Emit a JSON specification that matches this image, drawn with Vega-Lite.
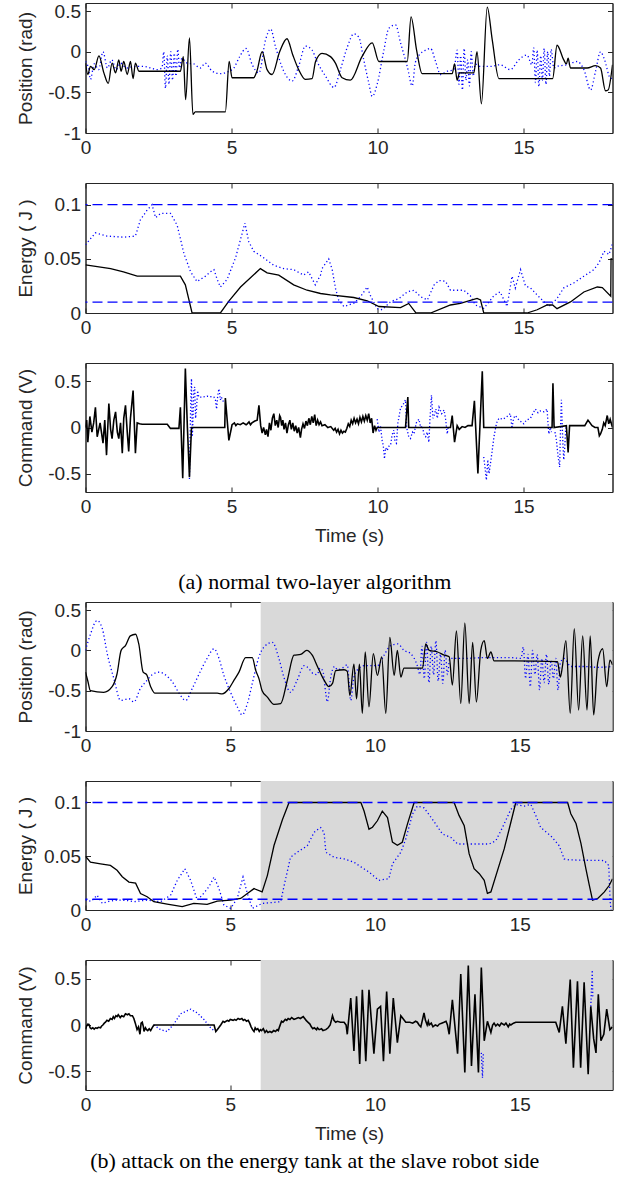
{
"$schema":"https://vega.github.io/schema/vega-lite/v6.json",
"padding":{"left":15.5,"top":1,"right":5,"bottom":5},
"spacing":24,
"config":{"view":{"stroke":"#262626","strokeWidth":1},"axis":{"grid":false,"tickSize":-5,"labelPadding":10,"labelFlush":false,"labelFont":"Liberation Sans","labelFontSize":19,"labelColor":"#262626","titleFont":"Liberation Sans","titleFontSize":19,"titleFontWeight":"normal","titleColor":"#262626","domainColor":"#262626","tickColor":"#262626","labelOverlap":false}},
"datasets":{
"lim":[{"v":0.1},{"v":0.01}],
"shade":[{"a":6.05,"b":18.2}],
"p1k":[{"t":0,"v":-0.14},{"t":0.08,"v":-0.28},{"t":0.17,"v":-0.18},{"t":0.3,"v":-0.22},{"t":0.46,"v":-0.05},{"t":0.63,"v":-0.26},{"t":0.78,"v":-0.39},{"t":0.91,"v":-0.14},{"t":1.03,"v":-0.26},{"t":1.14,"v":-0.1},{"t":1.22,"v":-0.24},{"t":1.31,"v":-0.12},{"t":1.43,"v":-0.28},{"t":1.54,"v":-0.12},{"t":1.63,"v":-0.33},{"t":1.71,"v":-0.14},{"t":1.83,"v":-0.24},{"t":2.0,"v":-0.24},{"t":3.25,"v":-0.24},{"t":3.35,"v":-0.06},{"t":3.43,"v":-0.59},{"t":3.56,"v":0.17},{"t":3.68,"v":-0.77},{"t":3.76,"v":-0.74},{"t":4.79,"v":-0.74},{"t":4.92,"v":-0.12},{"t":5.02,"v":-0.32},{"t":5.76,"v":-0.32},{"t":5.87,"v":-0.24},{"t":6.05,"v":0.0},{"t":6.22,"v":-0.22},{"t":6.39,"v":-0.28},{"t":6.65,"v":0.0},{"t":6.9,"v":0.16},{"t":7.1,"v":-0.04},{"t":7.3,"v":-0.22},{"t":7.53,"v":-0.34},{"t":7.76,"v":-0.33},{"t":7.88,"v":-0.12},{"t":8.1,"v":-0.02},{"t":8.39,"v":-0.06},{"t":8.56,"v":-0.14},{"t":8.79,"v":-0.32},{"t":9.07,"v":-0.35},{"t":9.47,"v":-0.06},{"t":9.82,"v":0.11},{"t":10.05,"v":-0.12},{"t":11.02,"v":-0.12},{"t":11.15,"v":0.43},{"t":11.34,"v":0.02},{"t":11.53,"v":-0.27},{"t":12.56,"v":-0.27},{"t":12.64,"v":-0.15},{"t":12.73,"v":-0.35},{"t":12.81,"v":-0.26},{"t":13.3,"v":-0.26},{"t":13.41,"v":0.0},{"t":13.56,"v":-0.64},{"t":13.76,"v":0.55},{"t":13.93,"v":0.15},{"t":14.16,"v":-0.33},{"t":16.0,"v":-0.33},{"t":16.15,"v":0.08},{"t":16.38,"v":-0.1},{"t":16.47,"v":-0.15},{"t":16.53,"v":-0.08},{"t":16.61,"v":-0.2},{"t":17.18,"v":-0.2},{"t":17.47,"v":-0.17},{"t":17.64,"v":-0.2},{"t":17.81,"v":-0.48},{"t":17.9,"v":-0.47},{"t":18.05,"v":-0.16}],
"p1b":[{"t":0,"v":-0.12},{"t":0.1,"v":-0.2},{"t":0.17,"v":-0.34},{"t":0.3,"v":-0.15},{"t":0.45,"v":-0.22},{"t":0.6,"v":0.0},{"t":0.75,"v":-0.2},{"t":0.9,"v":-0.1},{"t":1.05,"v":-0.22},{"t":1.2,"v":-0.14},{"t":1.4,"v":-0.2},{"t":1.7,"v":-0.18},{"t":2.0,"v":-0.18},{"t":2.24,"v":-0.2},{"t":2.45,"v":-0.22},{"t":2.62,"v":-0.2},{"t":2.68,"v":0.0},{"t":2.74,"v":-0.45},{"t":2.8,"v":-0.05},{"t":2.86,"v":-0.4},{"t":2.92,"v":0.0},{"t":2.98,"v":-0.35},{"t":3.04,"v":-0.02},{"t":3.1,"v":-0.3},{"t":3.16,"v":0.03},{"t":3.22,"v":-0.2},{"t":3.3,"v":-0.08},{"t":3.48,"v":-0.14},{"t":3.71,"v":-0.15},{"t":3.93,"v":-0.2},{"t":4.1,"v":-0.14},{"t":4.34,"v":-0.24},{"t":4.62,"v":-0.27},{"t":4.85,"v":-0.25},{"t":5.08,"v":-0.2},{"t":5.28,"v":-0.06},{"t":5.5,"v":0.04},{"t":5.71,"v":-0.16},{"t":5.94,"v":-0.26},{"t":6.17,"v":0.15},{"t":6.34,"v":0.28},{"t":6.51,"v":0.06},{"t":6.79,"v":-0.24},{"t":7.08,"v":-0.36},{"t":7.3,"v":-0.18},{"t":7.53,"v":0.07},{"t":7.76,"v":0.02},{"t":7.93,"v":-0.12},{"t":8.22,"v":-0.3},{"t":8.51,"v":-0.44},{"t":8.73,"v":-0.22},{"t":8.96,"v":0.05},{"t":9.19,"v":0.22},{"t":9.36,"v":0.18},{"t":9.53,"v":-0.1},{"t":9.7,"v":-0.38},{"t":9.82,"v":-0.55},{"t":9.99,"v":-0.4},{"t":10.22,"v":0.02},{"t":10.39,"v":0.29},{"t":10.62,"v":0.33},{"t":10.79,"v":0.11},{"t":11.02,"v":-0.18},{"t":11.19,"v":-0.42},{"t":11.3,"v":-0.13},{"t":11.48,"v":-0.02},{"t":11.65,"v":0.02},{"t":11.82,"v":0.04},{"t":11.99,"v":-0.12},{"t":12.16,"v":-0.28},{"t":12.39,"v":-0.24},{"t":12.62,"v":-0.22},{"t":12.73,"v":0.02},{"t":12.79,"v":-0.4},{"t":12.85,"v":-0.05},{"t":12.91,"v":-0.47},{"t":12.97,"v":0.04},{"t":13.03,"v":-0.35},{"t":13.09,"v":-0.1},{"t":13.15,"v":-0.42},{"t":13.21,"v":0.0},{"t":13.28,"v":-0.3},{"t":13.35,"v":-0.15},{"t":13.52,"v":-0.18},{"t":13.87,"v":-0.18},{"t":14.2,"v":-0.16},{"t":14.55,"v":-0.22},{"t":14.84,"v":-0.1},{"t":15.12,"v":-0.04},{"t":15.29,"v":-0.16},{"t":15.35,"v":0.05},{"t":15.41,"v":-0.38},{"t":15.47,"v":0.02},{"t":15.53,"v":-0.43},{"t":15.59,"v":-0.05},{"t":15.65,"v":-0.35},{"t":15.71,"v":0.04},{"t":15.77,"v":-0.4},{"t":15.83,"v":0.0},{"t":15.89,"v":-0.3},{"t":15.95,"v":0.03},{"t":16.04,"v":-0.2},{"t":16.15,"v":-0.18},{"t":16.5,"v":-0.16},{"t":16.84,"v":-0.12},{"t":17.07,"v":-0.22},{"t":17.3,"v":-0.47},{"t":17.47,"v":-0.24},{"t":17.64,"v":0.0},{"t":17.76,"v":-0.08},{"t":17.99,"v":-0.33},{"t":18.05,"v":-0.3}],
"p2k":[{"t":0,"v":0.0444},{"t":0.86,"v":0.041},{"t":1.3,"v":0.038},{"t":1.77,"v":0.034},{"t":3.25,"v":0.034},{"t":3.42,"v":0.026},{"t":3.65,"v":0},{"t":4.62,"v":0},{"t":4.91,"v":0.011},{"t":5.31,"v":0.024},{"t":5.99,"v":0.041},{"t":6.22,"v":0.037},{"t":6.62,"v":0.035},{"t":7.13,"v":0.026},{"t":7.59,"v":0.021},{"t":8.05,"v":0.018},{"t":8.39,"v":0.0167},{"t":9.19,"v":0.0143},{"t":9.65,"v":0.0113},{"t":10.05,"v":0.006},{"t":10.79,"v":0.0049},{"t":11.07,"v":0.0088},{"t":11.31,"v":0.0003},{"t":11.82,"v":0},{"t":12.5,"v":0.0074},{"t":12.84,"v":0.0088},{"t":13.41,"v":0.0134},{"t":13.53,"v":0.012},{"t":13.64,"v":0},{"t":15.12,"v":0},{"t":15.47,"v":0.003},{"t":15.81,"v":0.0074},{"t":16.0,"v":0.0074},{"t":16.15,"v":0.004},{"t":16.61,"v":0.0102},{"t":17.07,"v":0.0194},{"t":17.53,"v":0.024},{"t":17.7,"v":0.0235},{"t":17.99,"v":0.0155},{"t":18.0,"v":0.05},{"t":18.05,"v":0.05}],
"p2b":[{"t":0,"v":0.063},{"t":0.34,"v":0.074},{"t":0.74,"v":0.071},{"t":1.31,"v":0.07},{"t":1.71,"v":0.071},{"t":1.88,"v":0.086},{"t":2.11,"v":0.095},{"t":2.28,"v":0.1},{"t":2.4,"v":0.088},{"t":2.57,"v":0.092},{"t":2.91,"v":0.092},{"t":3.14,"v":0.081},{"t":3.37,"v":0.055},{"t":3.6,"v":0.038},{"t":3.82,"v":0.029},{"t":4.11,"v":0.034},{"t":4.28,"v":0.038},{"t":4.4,"v":0.04},{"t":4.51,"v":0.031},{"t":4.62,"v":0.024},{"t":4.85,"v":0.031},{"t":5.14,"v":0.051},{"t":5.31,"v":0.068},{"t":5.46,"v":0.083},{"t":5.59,"v":0.066},{"t":5.76,"v":0.057},{"t":6.1,"v":0.051},{"t":6.45,"v":0.044},{"t":6.79,"v":0.041},{"t":7.13,"v":0.04},{"t":7.47,"v":0.035},{"t":7.64,"v":0.038},{"t":7.87,"v":0.026},{"t":7.93,"v":0.029},{"t":8.05,"v":0.035},{"t":8.1,"v":0.041},{"t":8.33,"v":0.05},{"t":8.45,"v":0.04},{"t":8.56,"v":0.023},{"t":8.67,"v":0.012},{"t":8.85,"v":0.006},{"t":9.19,"v":0.009},{"t":9.42,"v":0.015},{"t":9.65,"v":0.024},{"t":9.76,"v":0.016},{"t":9.99,"v":0.004},{"t":10.16,"v":0.003},{"t":10.45,"v":0.0105},{"t":10.73,"v":0.0133},{"t":11.02,"v":0.0195},{"t":11.25,"v":0.021},{"t":11.48,"v":0.015},{"t":11.71,"v":0.012},{"t":11.94,"v":0.026},{"t":12.11,"v":0.03},{"t":12.33,"v":0.0293},{"t":12.5,"v":0.021},{"t":12.96,"v":0.021},{"t":13.18,"v":0.016},{"t":13.35,"v":0.0074},{"t":13.64,"v":0.0043},{"t":13.99,"v":0.016},{"t":14.2,"v":0.0195},{"t":14.44,"v":0.006},{"t":14.61,"v":0.034},{"t":14.72,"v":0.023},{"t":14.9,"v":0.04},{"t":15.07,"v":0.025},{"t":15.24,"v":0.0232},{"t":15.59,"v":0.0133},{"t":15.87,"v":0.006},{"t":16.15,"v":0.0133},{"t":16.38,"v":0.0232},{"t":16.72,"v":0.0277},{"t":17.07,"v":0.034},{"t":17.41,"v":0.04},{"t":17.58,"v":0.046},{"t":17.76,"v":0.057},{"t":17.93,"v":0.054},{"t":18.05,"v":0.064}],
"p3k":[{"t":0,"v":0.0},{"t":0.04,"v":0.08},{"t":0.08,"v":-0.16},{"t":0.15,"v":0.12},{"t":0.22,"v":-0.05},{"t":0.28,"v":0.05},{"t":0.34,"v":0.22},{"t":0.4,"v":-0.1},{"t":0.5,"v":0.05},{"t":0.6,"v":-0.17},{"t":0.66,"v":0.08},{"t":0.72,"v":-0.3},{"t":0.8,"v":0.26},{"t":0.86,"v":-0.02},{"t":0.91,"v":-0.12},{"t":0.97,"v":0.08},{"t":1.03,"v":0.17},{"t":1.09,"v":-0.05},{"t":1.14,"v":-0.12},{"t":1.2,"v":0.05},{"t":1.26,"v":-0.28},{"t":1.31,"v":0.1},{"t":1.37,"v":0.24},{"t":1.43,"v":-0.05},{"t":1.48,"v":-0.26},{"t":1.54,"v":0.1},{"t":1.63,"v":0.4},{"t":1.71,"v":-0.28},{"t":1.77,"v":0.05},{"t":1.85,"v":0.04},{"t":1.94,"v":0.036},{"t":2.8,"v":0.036},{"t":2.91,"v":-0.01},{"t":3.2,"v":-0.01},{"t":3.25,"v":0.22},{"t":3.33,"v":-0.55},{"t":3.42,"v":0.64},{"t":3.49,"v":0.0},{"t":3.56,"v":-0.54},{"t":3.63,"v":0.0},{"t":4.77,"v":0.0},{"t":4.79,"v":0.32},{"t":4.91,"v":-0.14},{"t":5.02,"v":0.03},{"t":5.1,"v":0.05},{"t":5.15,"v":0.02},{"t":5.2,"v":0.04},{"t":5.3,"v":0.03},{"t":5.4,"v":0.05},{"t":5.5,"v":0.03},{"t":5.54,"v":0.04},{"t":5.6,"v":0.06},{"t":5.65,"v":0.03},{"t":5.7,"v":0.05},{"t":5.8,"v":0.07},{"t":5.88,"v":0.08},{"t":5.94,"v":0.24},{"t":6.0,"v":0.02},{"t":6.05,"v":-0.06},{"t":6.1,"v":0.0},{"t":6.16,"v":-0.08},{"t":6.2,"v":-0.02},{"t":6.25,"v":-0.1},{"t":6.3,"v":0.05},{"t":6.35,"v":-0.03},{"t":6.4,"v":0.1},{"t":6.45,"v":0.15},{"t":6.5,"v":0.02},{"t":6.55,"v":0.08},{"t":6.6,"v":0.0},{"t":6.65,"v":0.13},{"t":6.68,"v":0.11},{"t":6.72,"v":0.02},{"t":6.76,"v":0.08},{"t":6.8,"v":-0.02},{"t":6.85,"v":0.05},{"t":6.9,"v":-0.06},{"t":6.95,"v":0.03},{"t":7.0,"v":0.08},{"t":7.05,"v":-0.02},{"t":7.1,"v":0.05},{"t":7.15,"v":-0.04},{"t":7.2,"v":0.02},{"t":7.25,"v":-0.06},{"t":7.3,"v":0.0},{"t":7.36,"v":-0.11},{"t":7.4,"v":-0.02},{"t":7.45,"v":0.04},{"t":7.5,"v":-0.01},{"t":7.55,"v":0.07},{"t":7.6,"v":0.02},{"t":7.65,"v":0.1},{"t":7.7,"v":0.03},{"t":7.75,"v":0.12},{"t":7.8,"v":0.05},{"t":7.85,"v":0.14},{"t":7.9,"v":0.02},{"t":7.95,"v":0.08},{"t":8.0,"v":0.03},{"t":8.05,"v":0.06},{"t":8.1,"v":0.02},{"t":8.2,"v":0.03},{"t":8.3,"v":0.0},{"t":8.4,"v":0.01},{"t":8.5,"v":-0.03},{"t":8.55,"v":-0.01},{"t":8.6,"v":-0.05},{"t":8.65,"v":-0.02},{"t":8.7,"v":-0.07},{"t":8.75,"v":-0.03},{"t":8.8,"v":-0.06},{"t":8.85,"v":-0.04},{"t":8.9,"v":-0.05},{"t":8.95,"v":-0.01},{"t":9.0,"v":0.04},{"t":9.05,"v":0.01},{"t":9.1,"v":0.08},{"t":9.15,"v":0.04},{"t":9.2,"v":0.1},{"t":9.25,"v":0.05},{"t":9.3,"v":0.09},{"t":9.35,"v":0.04},{"t":9.4,"v":0.11},{"t":9.45,"v":0.06},{"t":9.5,"v":0.12},{"t":9.55,"v":0.07},{"t":9.6,"v":0.13},{"t":9.65,"v":0.08},{"t":9.7,"v":0.15},{"t":9.75,"v":0.05},{"t":9.8,"v":0.1},{"t":9.85,"v":-0.06},{"t":9.9,"v":0.02},{"t":9.95,"v":-0.03},{"t":9.99,"v":0.0},{"t":10.96,"v":0.0},{"t":11.04,"v":0.33},{"t":11.07,"v":0.0},{"t":12.5,"v":0.0},{"t":12.56,"v":0.13},{"t":12.64,"v":-0.16},{"t":12.73,"v":0.02},{"t":12.8,"v":-0.02},{"t":12.9,"v":0.01},{"t":13.0,"v":0.0},{"t":13.1,"v":0.02},{"t":13.24,"v":0.02},{"t":13.32,"v":0.29},{"t":13.44,"v":-0.5},{"t":13.59,"v":0.61},{"t":13.64,"v":0.0},{"t":15.98,"v":0.0},{"t":16.01,"v":0.48},{"t":16.05,"v":0.0},{"t":16.47,"v":0.02},{"t":16.53,"v":-0.27},{"t":16.58,"v":0.02},{"t":17.1,"v":0.02},{"t":17.21,"v":0.08},{"t":17.35,"v":0.02},{"t":17.45,"v":0.0},{"t":17.55,"v":0.0},{"t":17.6,"v":-0.09},{"t":17.64,"v":-0.07},{"t":17.7,"v":-0.02},{"t":17.75,"v":0.05},{"t":17.8,"v":0.02},{"t":17.87,"v":0.13},{"t":17.92,"v":0.04},{"t":17.97,"v":0.09},{"t":18.05,"v":0.0}],
"p3b":[{"g":1,"t":3.56,"v":-0.56},{"g":1,"t":3.6,"v":0.2},{"g":1,"t":3.63,"v":0.53},{"g":1,"t":3.66,"v":-0.1},{"g":1,"t":3.68,"v":0.08},{"g":1,"t":3.71,"v":0.4},{"g":1,"t":3.74,"v":0.44},{"g":1,"t":3.77,"v":0.1},{"g":1,"t":3.8,"v":0.19},{"g":1,"t":3.84,"v":0.4},{"g":1,"t":3.88,"v":0.33},{"g":1,"t":4.0,"v":0.33},{"g":1,"t":4.17,"v":0.34},{"g":1,"t":4.4,"v":0.33},{"g":1,"t":4.45,"v":0.3},{"g":1,"t":4.49,"v":0.2},{"g":1,"t":4.53,"v":0.35},{"g":1,"t":4.57,"v":0.42},{"g":1,"t":4.62,"v":0.3},{"g":1,"t":4.65,"v":0.33},{"g":1,"t":4.7,"v":0.3},{"g":1,"t":4.74,"v":0.26},
{"g":2,"t":9.99,"v":0.09},{"g":2,"t":10.05,"v":-0.05},{"g":2,"t":10.1,"v":0.02},{"g":2,"t":10.16,"v":-0.14},{"g":2,"t":10.2,"v":-0.2},{"g":2,"t":10.24,"v":-0.34},{"g":2,"t":10.28,"v":-0.22},{"g":2,"t":10.33,"v":-0.25},{"g":2,"t":10.4,"v":-0.2},{"g":2,"t":10.45,"v":-0.19},{"g":2,"t":10.5,"v":-0.08},{"g":2,"t":10.56,"v":-0.03},{"g":2,"t":10.6,"v":-0.15},{"g":2,"t":10.65,"v":-0.17},{"g":2,"t":10.7,"v":0.05},{"g":2,"t":10.79,"v":0.21},{"g":2,"t":10.88,"v":0.25},{"g":2,"t":10.96,"v":0.3},{"g":2,"t":11.0,"v":0.0},{"g":2,"t":11.07,"v":-0.1},{"g":2,"t":11.13,"v":-0.12},{"g":2,"t":11.2,"v":-0.05},{"g":2,"t":11.25,"v":-0.07},{"g":2,"t":11.33,"v":0.05},{"g":2,"t":11.42,"v":0.09},{"g":2,"t":11.48,"v":0.0},{"g":2,"t":11.53,"v":0.02},{"g":2,"t":11.6,"v":-0.08},{"g":2,"t":11.65,"v":-0.1},{"g":2,"t":11.7,"v":-0.05},{"g":2,"t":11.76,"v":-0.16},{"g":2,"t":11.8,"v":0.1},{"g":2,"t":11.85,"v":0.35},{"g":2,"t":11.9,"v":0.1},{"g":2,"t":11.94,"v":0.13},{"g":2,"t":12.0,"v":0.2},{"g":2,"t":12.05,"v":0.1},{"g":2,"t":12.11,"v":0.22},{"g":2,"t":12.2,"v":0.15},{"g":2,"t":12.28,"v":0.19},{"g":2,"t":12.33,"v":0.1},{"g":2,"t":12.39,"v":-0.07},{"g":2,"t":12.42,"v":0.0},
{"g":3,"t":13.64,"v":-0.32},{"g":3,"t":13.69,"v":-0.45},{"g":3,"t":13.73,"v":-0.57},{"g":3,"t":13.78,"v":-0.35},{"g":3,"t":13.82,"v":-0.5},{"g":3,"t":13.87,"v":-0.39},{"g":3,"t":13.93,"v":-0.25},{"g":3,"t":13.99,"v":-0.1},{"g":3,"t":14.08,"v":0.05},{"g":3,"t":14.16,"v":0.1},{"g":3,"t":14.3,"v":0.09},{"g":3,"t":14.44,"v":0.12},{"g":3,"t":14.55,"v":0.15},{"g":3,"t":14.61,"v":-0.01},{"g":3,"t":14.66,"v":0.1},{"g":3,"t":14.72,"v":0.13},{"g":3,"t":14.85,"v":0.08},{"g":3,"t":15.01,"v":0.04},{"g":3,"t":15.1,"v":0.08},{"g":3,"t":15.24,"v":0.1},{"g":3,"t":15.32,"v":0.15},{"g":3,"t":15.41,"v":0.2},{"g":3,"t":15.5,"v":0.16},{"g":3,"t":15.58,"v":0.18},{"g":3,"t":15.7,"v":0.17},{"g":3,"t":15.81,"v":0.2},{"g":3,"t":15.85,"v":0.0},{"g":3,"t":15.87,"v":-0.07},{"g":3,"t":15.92,"v":0.0},{"g":3,"t":15.96,"v":-0.05},
{"g":4,"t":16.08,"v":-0.05},{"g":4,"t":16.13,"v":-0.14},{"g":4,"t":16.18,"v":-0.3},{"g":4,"t":16.24,"v":-0.43},{"g":4,"t":16.27,"v":0.0},{"g":4,"t":16.3,"v":0.3},{"g":4,"t":16.33,"v":0.0},{"g":4,"t":16.35,"v":-0.17},{"g":4,"t":16.38,"v":-0.35},{"g":4,"t":16.41,"v":-0.24},{"g":4,"t":16.45,"v":0.0}],
"p4k":[{"t":0,"v":-0.27},{"t":0.08,"v":-0.38},{"t":0.17,"v":-0.5},{"t":0.63,"v":-0.52},{"t":0.92,"v":-0.45},{"t":1.09,"v":-0.29},{"t":1.23,"v":0.0},{"t":1.38,"v":0.06},{"t":1.55,"v":0.18},{"t":1.73,"v":0.2},{"t":1.84,"v":0.08},{"t":1.99,"v":-0.27},{"t":2.11,"v":-0.3},{"t":2.25,"v":-0.45},{"t":2.39,"v":-0.53},{"t":3.51,"v":-0.53},{"t":4.55,"v":-0.53},{"t":4.72,"v":-0.54},{"t":4.96,"v":-0.47},{"t":5.13,"v":-0.37},{"t":5.3,"v":-0.27},{"t":5.53,"v":-0.09},{"t":5.76,"v":-0.09},{"t":5.88,"v":-0.25},{"t":5.99,"v":-0.35},{"t":6.1,"v":-0.5},{"t":6.28,"v":-0.58},{"t":6.51,"v":-0.67},{"t":6.74,"v":-0.66},{"t":6.97,"v":-0.37},{"t":7.2,"v":-0.06},{"t":7.43,"v":-0.05},{"t":7.64,"v":0.0},{"t":7.83,"v":-0.06},{"t":8.01,"v":-0.2},{"t":8.24,"v":-0.37},{"t":8.41,"v":-0.45},{"t":8.53,"v":-0.41},{"t":8.64,"v":-0.25},{"t":8.93,"v":-0.24},{"t":9.04,"v":-0.26},{"t":9.13,"v":-0.56},{"t":9.27,"v":-0.17},{"t":9.36,"v":-0.6},{"t":9.46,"v":-0.17},{"t":9.56,"v":-0.78},{"t":9.66,"v":-0.02},{"t":9.79,"v":-0.7},{"t":9.94,"v":-0.04},{"t":10.08,"v":-0.31},{"t":10.23,"v":-0.08},{"t":10.37,"v":-0.78},{"t":10.51,"v":0.16},{"t":10.66,"v":-0.31},{"t":10.77,"v":0.0},{"t":10.89,"v":-0.33},{"t":11.0,"v":-0.22},{"t":11.64,"v":-0.22},{"t":11.75,"v":0.08},{"t":11.87,"v":0.0},{"t":12.16,"v":-0.02},{"t":12.39,"v":-0.06},{"t":12.56,"v":-0.08},{"t":12.67,"v":-0.43},{"t":12.81,"v":0.24},{"t":12.96,"v":-0.66},{"t":13.1,"v":0.34},{"t":13.25,"v":-0.66},{"t":13.37,"v":0.1},{"t":13.5,"v":-0.64},{"t":13.65,"v":0.0},{"t":13.77,"v":0.12},{"t":13.88,"v":-0.1},{"t":14.0,"v":-0.02},{"t":14.11,"v":-0.13},{"t":14.81,"v":-0.13},{"t":16.3,"v":-0.14},{"t":16.4,"v":-0.33},{"t":16.47,"v":-0.2},{"t":16.59,"v":0.12},{"t":16.74,"v":-0.78},{"t":16.88,"v":0.27},{"t":17.03,"v":-0.74},{"t":17.17,"v":0.18},{"t":17.32,"v":-0.74},{"t":17.43,"v":0.18},{"t":17.55,"v":-0.8},{"t":17.69,"v":-0.15},{"t":17.86,"v":0.02},{"t":18.0,"v":-0.45},{"t":18.11,"v":-0.12},{"t":18.2,"v":-0.18}],
"p4b":[{"t":0,"v":0},{"t":0.17,"v":0.2},{"t":0.4,"v":0.37},{"t":0.58,"v":0.27},{"t":0.75,"v":-0.04},{"t":0.98,"v":-0.35},{"t":1.21,"v":-0.62},{"t":1.5,"v":-0.6},{"t":1.67,"v":-0.64},{"t":1.9,"v":-0.47},{"t":2.08,"v":-0.39},{"t":2.31,"v":-0.3},{"t":2.55,"v":-0.27},{"t":2.78,"v":-0.31},{"t":3.0,"v":-0.39},{"t":3.23,"v":-0.53},{"t":3.46,"v":-0.62},{"t":3.69,"v":-0.47},{"t":3.98,"v":-0.25},{"t":4.2,"v":-0.1},{"t":4.44,"v":0.02},{"t":4.61,"v":-0.1},{"t":4.78,"v":-0.31},{"t":5.01,"v":-0.52},{"t":5.24,"v":-0.7},{"t":5.41,"v":-0.8},{"t":5.59,"v":-0.66},{"t":5.76,"v":-0.41},{"t":5.99,"v":-0.08},{"t":6.16,"v":0.04},{"t":6.45,"v":0.1},{"t":6.68,"v":-0.1},{"t":6.85,"v":-0.33},{"t":7.08,"v":-0.52},{"t":7.31,"v":-0.37},{"t":7.55,"v":-0.19},{"t":7.7,"v":-0.22},{"t":7.87,"v":-0.29},{"t":8.0,"v":-0.3},{"t":8.1,"v":-0.22},{"t":8.2,"v":-0.26},{"t":8.3,"v":-0.54},{"t":8.35,"v":-0.64},{"t":8.47,"v":-0.33},{"t":8.6,"v":-0.2},{"t":8.7,"v":-0.24},{"t":8.87,"v":-0.22},{"t":9.04,"v":-0.18},{"t":9.16,"v":-0.62},{"t":9.27,"v":-0.33},{"t":9.45,"v":-0.22},{"t":9.62,"v":-0.19},{"t":10.08,"v":-0.19},{"t":10.31,"v":-0.06},{"t":10.54,"v":0.06},{"t":10.79,"v":0.08},{"t":11.0,"v":0.0},{"t":11.23,"v":-0.04},{"t":11.46,"v":-0.19},{"t":11.55,"v":-0.3},{"t":11.62,"v":0.05},{"t":11.7,"v":-0.35},{"t":11.78,"v":0.1},{"t":11.86,"v":-0.4},{"t":11.94,"v":0.05},{"t":12.02,"v":-0.3},{"t":12.1,"v":0.12},{"t":12.18,"v":-0.38},{"t":12.26,"v":-0.05},{"t":12.34,"v":-0.41},{"t":12.42,"v":0.0},{"t":12.5,"v":-0.3},{"t":12.58,"v":-0.1},{"t":12.73,"v":-0.1},{"t":13.07,"v":-0.1},{"t":13.77,"v":-0.09},{"t":14.23,"v":-0.09},{"t":14.69,"v":-0.09},{"t":15.04,"v":-0.1},{"t":15.12,"v":0.04},{"t":15.2,"v":-0.35},{"t":15.28,"v":-0.05},{"t":15.36,"v":-0.45},{"t":15.44,"v":0.0},{"t":15.52,"v":-0.3},{"t":15.6,"v":-0.05},{"t":15.68,"v":-0.49},{"t":15.76,"v":-0.1},{"t":15.84,"v":-0.4},{"t":15.92,"v":-0.05},{"t":16.0,"v":-0.42},{"t":16.08,"v":-0.12},{"t":16.16,"v":-0.35},{"t":16.24,"v":-0.1},{"t":16.32,"v":-0.49},{"t":16.4,"v":-0.15},{"t":16.53,"v":-0.1},{"t":16.76,"v":-0.2},{"t":17.22,"v":-0.2},{"t":17.69,"v":-0.21},{"t":18.2,"v":-0.2}],
"p5k":[{"t":0,"v":0.05},{"t":0.17,"v":0.0445},{"t":0.52,"v":0.043},{"t":0.86,"v":0.0415},{"t":1.09,"v":0.037},{"t":1.27,"v":0.031},{"t":1.5,"v":0.026},{"t":1.73,"v":0.025},{"t":1.9,"v":0.0153},{"t":2.13,"v":0.0123},{"t":2.36,"v":0.0077},{"t":2.82,"v":0.0055},{"t":3.34,"v":0.0031},{"t":3.74,"v":0.0061},{"t":4.2,"v":0.0052},{"t":4.55,"v":0.0083},{"t":5.01,"v":0.0092},{"t":5.36,"v":0.0107},{"t":5.59,"v":0.0153},{"t":5.82,"v":0.0199},{"t":6.1,"v":0.0168},{"t":6.28,"v":0.032},{"t":6.51,"v":0.06},{"t":6.8,"v":0.084},{"t":7.03,"v":0.1},{"t":9.51,"v":0.1},{"t":9.62,"v":0.0921},{"t":9.79,"v":0.0752},{"t":9.91,"v":0.077},{"t":10.08,"v":0.083},{"t":10.25,"v":0.092},{"t":10.43,"v":0.086},{"t":10.6,"v":0.0632},{"t":10.77,"v":0.0602},{"t":10.94,"v":0.063},{"t":11.12,"v":0.0801},{"t":11.35,"v":0.1},{"t":12.73,"v":0.1},{"t":12.9,"v":0.088},{"t":13.08,"v":0.0783},{"t":13.25,"v":0.0522},{"t":13.42,"v":0.0384},{"t":13.6,"v":0.0338},{"t":13.77,"v":0.0276},{"t":13.88,"v":0.0154},{"t":14.0,"v":0.0168},{"t":14.46,"v":0.0568},{"t":14.86,"v":0.1},{"t":16.65,"v":0.1},{"t":16.76,"v":0.0896},{"t":16.94,"v":0.0804},{"t":17.11,"v":0.062},{"t":17.28,"v":0.0384},{"t":17.4,"v":0.023},{"t":17.51,"v":0.0092},{"t":17.69,"v":0.0107},{"t":17.92,"v":0.0168},{"t":18.09,"v":0.023},{"t":18.2,"v":0.0291}],
"p5b":[{"t":0,"v":0.0092},{"t":0.2,"v":0.008},{"t":0.4,"v":0.0138},{"t":0.58,"v":0.0061},{"t":0.8,"v":0.008},{"t":1.09,"v":0.0092},{"t":1.4,"v":0.009},{"t":1.67,"v":0.0077},{"t":2.13,"v":0.0092},{"t":2.59,"v":0.0077},{"t":2.94,"v":0.0138},{"t":3.17,"v":0.0276},{"t":3.43,"v":0.0384},{"t":3.63,"v":0.0276},{"t":3.86,"v":0.0092},{"t":4.03,"v":0.0138},{"t":4.26,"v":0.0215},{"t":4.44,"v":0.0307},{"t":4.61,"v":0.0199},{"t":4.78,"v":0.0046},{"t":5.01,"v":0.0015},{"t":5.24,"v":0.0107},{"t":5.44,"v":0.0307},{"t":5.59,"v":0.0153},{"t":5.76,"v":0.0015},{"t":6.1,"v":0.0061},{"t":6.74,"v":0.0077},{"t":6.85,"v":0.0215},{"t":7.08,"v":0.0491},{"t":7.31,"v":0.0537},{"t":7.66,"v":0.0598},{"t":7.89,"v":0.072},{"t":7.95,"v":0.0736},{"t":8.12,"v":0.0767},{"t":8.24,"v":0.072},{"t":8.3,"v":0.0537},{"t":8.58,"v":0.0491},{"t":8.93,"v":0.0475},{"t":9.27,"v":0.0445},{"t":9.44,"v":0.0414},{"t":9.79,"v":0.0353},{"t":10.13,"v":0.0276},{"t":10.48,"v":0.0292},{"t":10.6,"v":0.043},{"t":10.89,"v":0.0537},{"t":11.06,"v":0.066},{"t":11.29,"v":0.089},{"t":11.46,"v":0.0967},{"t":11.69,"v":0.0951},{"t":11.98,"v":0.0844},{"t":12.33,"v":0.0706},{"t":12.62,"v":0.0675},{"t":12.85,"v":0.0614},{"t":13.19,"v":0.0614},{"t":13.94,"v":0.0614},{"t":14.17,"v":0.0644},{"t":14.4,"v":0.0767},{"t":14.69,"v":0.0936},{"t":14.86,"v":0.0982},{"t":15.15,"v":0.0967},{"t":15.38,"v":0.0982},{"t":15.55,"v":0.088},{"t":15.72,"v":0.0767},{"t":16.07,"v":0.069},{"t":16.36,"v":0.0598},{"t":16.53,"v":0.0475},{"t":16.7,"v":0.0466},{"t":17.92,"v":0.046},{"t":18.07,"v":0.0414},{"t":18.12,"v":0.0077},{"t":18.15,"v":0.0}],
"p6k":[{"t":0,"v":-0.046},{"t":0.04,"v":-0.01},{"t":0.08,"v":0.01},{"t":0.12,"v":0.007},{"t":0.16,"v":-0.03},{"t":0.2,"v":-0.04},{"t":0.25,"v":-0.03},{"t":0.3,"v":-0.045},{"t":0.35,"v":-0.03},{"t":0.4,"v":-0.035},{"t":0.45,"v":-0.025},{"t":0.52,"v":-0.03},{"t":0.56,"v":-0.01},{"t":0.6,"v":0.0},{"t":0.65,"v":0.02},{"t":0.69,"v":0.03},{"t":0.74,"v":0.05},{"t":0.8,"v":0.04},{"t":0.86,"v":0.07},{"t":0.92,"v":0.06},{"t":0.96,"v":0.09},{"t":1.0,"v":0.07},{"t":1.05,"v":0.1},{"t":1.09,"v":0.09},{"t":1.13,"v":0.11},{"t":1.2,"v":0.08},{"t":1.25,"v":0.1},{"t":1.32,"v":0.09},{"t":1.38,"v":0.12},{"t":1.45,"v":0.11},{"t":1.5,"v":0.12},{"t":1.55,"v":0.1},{"t":1.62,"v":0.1},{"t":1.67,"v":0.07},{"t":1.72,"v":0.02},{"t":1.78,"v":-0.05},{"t":1.83,"v":-0.02},{"t":1.88,"v":-0.1},{"t":1.92,"v":0.02},{"t":1.96,"v":0.03},{"t":2.0,"v":-0.02},{"t":2.02,"v":-0.07},{"t":2.07,"v":-0.03},{"t":2.11,"v":-0.05},{"t":2.15,"v":-0.06},{"t":2.2,"v":-0.04},{"t":2.25,"v":-0.06},{"t":2.3,"v":-0.03},{"t":2.36,"v":0.0},{"t":4.44,"v":0.0},{"t":4.5,"v":-0.07},{"t":4.55,"v":-0.05},{"t":4.6,"v":-0.03},{"t":4.67,"v":0.0},{"t":4.75,"v":0.04},{"t":4.8,"v":0.03},{"t":4.9,"v":0.05},{"t":4.95,"v":0.04},{"t":5.0,"v":0.06},{"t":5.1,"v":0.05},{"t":5.15,"v":0.06},{"t":5.2,"v":0.05},{"t":5.27,"v":0.07},{"t":5.33,"v":0.06},{"t":5.4,"v":0.07},{"t":5.45,"v":0.05},{"t":5.5,"v":0.06},{"t":5.56,"v":0.04},{"t":5.62,"v":0.05},{"t":5.67,"v":0.02},{"t":5.72,"v":-0.02},{"t":5.77,"v":-0.05},{"t":5.82,"v":-0.07},{"t":5.86,"v":-0.03},{"t":5.9,"v":-0.05},{"t":5.95,"v":-0.04},{"t":6.0,"v":-0.07},{"t":6.04,"v":-0.05},{"t":6.08,"v":-0.06},{"t":6.14,"v":-0.04},{"t":6.2,"v":-0.08},{"t":6.25,"v":-0.06},{"t":6.3,"v":-0.08},{"t":6.37,"v":-0.07},{"t":6.43,"v":-0.08},{"t":6.5,"v":-0.06},{"t":6.56,"v":-0.07},{"t":6.62,"v":-0.05},{"t":6.66,"v":-0.06},{"t":6.7,"v":-0.02},{"t":6.77,"v":0.04},{"t":6.82,"v":0.03},{"t":6.9,"v":0.06},{"t":6.95,"v":0.05},{"t":7.0,"v":0.07},{"t":7.06,"v":0.06},{"t":7.12,"v":0.08},{"t":7.2,"v":0.06},{"t":7.28,"v":0.07},{"t":7.35,"v":0.08},{"t":7.42,"v":0.07},{"t":7.52,"v":0.09},{"t":7.57,"v":0.07},{"t":7.62,"v":0.05},{"t":7.68,"v":0.03},{"t":7.75,"v":0.01},{"t":7.8,"v":-0.02},{"t":7.85,"v":-0.04},{"t":7.9,"v":-0.03},{"t":7.98,"v":-0.05},{"t":8.01,"v":-0.03},{"t":8.07,"v":-0.05},{"t":8.15,"v":-0.04},{"t":8.2,"v":-0.06},{"t":8.3,"v":-0.05},{"t":8.38,"v":-0.03},{"t":8.45,"v":0.0},{"t":8.5,"v":0.06},{"t":8.53,"v":0.1},{"t":8.58,"v":0.05},{"t":8.64,"v":0.03},{"t":8.7,"v":0.04},{"t":8.8,"v":0.03},{"t":8.93,"v":0.03},{"t":9.0,"v":0.0},{"t":9.04,"v":-0.1},{"t":9.16,"v":0.29},{"t":9.27,"v":-0.28},{"t":9.36,"v":0.31},{"t":9.47,"v":-0.42},{"t":9.56,"v":0.38},{"t":9.68,"v":-0.39},{"t":9.79,"v":0.38},{"t":9.96,"v":-0.31},{"t":10.08,"v":0.17},{"t":10.19,"v":0.2},{"t":10.29,"v":-0.39},{"t":10.4,"v":0.36},{"t":10.51,"v":-0.31},{"t":10.63,"v":0.29},{"t":10.77,"v":-0.19},{"t":10.89,"v":0.1},{"t":11.06,"v":0.03},{"t":11.2,"v":0.03},{"t":11.3,"v":0.02},{"t":11.4,"v":0.04},{"t":11.46,"v":0.03},{"t":11.52,"v":0.0},{"t":11.58,"v":-0.02},{"t":11.64,"v":0.06},{"t":11.69,"v":0.13},{"t":11.74,"v":0.05},{"t":11.8,"v":0.0},{"t":11.84,"v":0.04},{"t":11.87,"v":0.0},{"t":11.94,"v":0.02},{"t":12.0,"v":-0.02},{"t":12.08,"v":0.0},{"t":12.16,"v":-0.01},{"t":12.22,"v":0.01},{"t":12.3,"v":0.02},{"t":12.38,"v":0.03},{"t":12.45,"v":0.04},{"t":12.5,"v":0.0},{"t":12.56,"v":-0.1},{"t":12.67,"v":0.27},{"t":12.85,"v":-0.31},{"t":12.96,"v":0.55},{"t":13.1,"v":-0.51},{"t":13.22,"v":0.64},{"t":13.33,"v":-0.44},{"t":13.45,"v":0.33},{"t":13.57,"v":-0.51},{"t":13.67,"v":0.62},{"t":13.77,"v":-0.17},{"t":13.88,"v":0.04},{"t":14.0,"v":-0.08},{"t":14.06,"v":0.0},{"t":14.11,"v":0.02},{"t":14.17,"v":-0.01},{"t":14.23,"v":0.01},{"t":14.3,"v":-0.01},{"t":14.36,"v":0.02},{"t":14.46,"v":0.0},{"t":14.52,"v":0.02},{"t":14.6,"v":-0.02},{"t":14.65,"v":0.01},{"t":14.69,"v":0.0},{"t":14.78,"v":0.02},{"t":14.86,"v":0.03},{"t":16.24,"v":0.03},{"t":16.36,"v":-0.08},{"t":16.47,"v":0.2},{"t":16.59,"v":-0.2},{"t":16.74,"v":0.49},{"t":16.85,"v":-0.46},{"t":16.99,"v":0.47},{"t":17.1,"v":-0.46},{"t":17.22,"v":0.46},{"t":17.36,"v":-0.53},{"t":17.45,"v":0.2},{"t":17.55,"v":-0.15},{"t":17.63,"v":-0.3},{"t":17.71,"v":0.33},{"t":17.8,"v":-0.17},{"t":17.9,"v":-0.1},{"t":18.0,"v":0.17},{"t":18.11,"v":-0.05},{"t":18.2,"v":-0.02}],
"p6b":[{"g":1,"t":2.36,"v":0.0},{"g":1,"t":2.59,"v":-0.05},{"g":1,"t":2.82,"v":-0.07},{"g":1,"t":3.05,"v":0.01},{"g":1,"t":3.28,"v":0.12},{"g":1,"t":3.63,"v":0.17},{"g":1,"t":3.86,"v":0.13},{"g":1,"t":4.09,"v":0.06},{"g":1,"t":4.32,"v":-0.03},{"g":1,"t":4.44,"v":-0.06},{"g":2,"t":13.67,"v":-0.3},{"g":2,"t":13.71,"v":-0.57},{"g":2,"t":13.74,"v":-0.3},{"g":3,"t":17.45,"v":0.2},{"g":3,"t":17.5,"v":0.59},{"g":3,"t":17.52,"v":0.3}]
},
"vconcat":[
{"width":527,"height":130,
 "layer":[
  {"data":{"name":"p1b"},"mark":{"type":"line","color":"#0000ff","strokeWidth":1.3,"strokeDash":[1.2,2.6],"interpolate":"monotone","clip":true},
   "encoding":{"x":{"field":"t","type":"quantitative","scale":{"domain":[0,18.05],"nice":false,"zero":false},"axis":{"orient":"top","values":[0,5,10,15],"labels":false,"title":null}},
   "y":{"field":"v","type":"quantitative","scale":{"domain":[-1,0.6],"nice":false,"zero":false},"axis":{"orient":"right","values":[-1,-0.5,0,0.5],"labels":false,"title":null}}}},
  {"data":{"name":"p1k"},"mark":{"type":"line","color":"black","strokeWidth":1.3,"interpolate":"monotone","clip":true},
   "encoding":{"x":{"field":"t","type":"quantitative","scale":{"domain":[0,18.05],"nice":false,"zero":false},"axis":{"orient":"bottom","values":[0,5,10,15],"title":null,"labelExpr":"''+datum.value"}},
   "y":{"field":"v","type":"quantitative","scale":{"domain":[-1,0.6],"nice":false,"zero":false},"axis":{"orient":"left","values":[-1,-0.5,0,0.5],"title":"Position (rad)","titleX":-60,"titleBaseline":"middle","labelExpr":"''+datum.value"}}}}
 ],
 "resolve":{"axis":{"x":"independent","y":"independent"}}},
{"width":527,"height":130,
 "layer":[
  {"data":{"name":"p2b"},"mark":{"type":"line","color":"#0000ff","strokeWidth":1.3,"strokeDash":[1.2,2.6],"clip":true},
   "encoding":{"x":{"field":"t","type":"quantitative","scale":{"domain":[0,18.05],"nice":false,"zero":false},"axis":{"orient":"top","values":[0,5,10,15],"labels":false,"title":null}},
   "y":{"field":"v","type":"quantitative","scale":{"domain":[0,0.12],"nice":false,"zero":false},"axis":{"orient":"right","values":[0,0.05,0.1],"labels":false,"title":null}}}},
  {"data":{"name":"p2k"},"mark":{"type":"line","color":"black","strokeWidth":1.3,"clip":true},
   "encoding":{"x":{"field":"t","type":"quantitative","scale":{"domain":[0,18.05],"nice":false,"zero":false},"axis":{"orient":"bottom","values":[0,5,10,15],"title":null,"labelExpr":"''+datum.value"}},
   "y":{"field":"v","type":"quantitative","scale":{"domain":[0,0.12],"nice":false,"zero":false},"axis":{"orient":"left","values":[0,0.05,0.1],"title":"Energy ( J )","titleX":-60,"titleBaseline":"middle","labelExpr":"''+datum.value"}}}},
  {"data":{"name":"lim"},"mark":{"type":"rule","color":"#0000ff","strokeWidth":1.3,"strokeDash":[10,5]},
   "encoding":{"y":{"field":"v","type":"quantitative","axis":null}}}
 ],
 "resolve":{"axis":{"x":"independent","y":"independent"}}},
{"width":527,"height":129,
 "layer":[
  {"data":{"name":"p3b"},"mark":{"type":"line","color":"#0000ff","strokeWidth":1.3,"strokeDash":[1.2,2.2],"clip":true},
   "encoding":{"x":{"field":"t","type":"quantitative","scale":{"domain":[0,18.05],"nice":false,"zero":false},"axis":{"orient":"top","values":[0,5,10,15],"labels":false,"title":null}},
   "y":{"field":"v","type":"quantitative","scale":{"domain":[-0.7,0.7],"nice":false,"zero":false},"axis":{"orient":"right","values":[-0.5,0,0.5],"labels":false,"title":null}},
   "detail":{"field":"g"}}},
  {"data":{"name":"p3k"},"mark":{"type":"line","color":"black","strokeWidth":1.6,"clip":true},
   "encoding":{"x":{"field":"t","type":"quantitative","scale":{"domain":[0,18.05],"nice":false,"zero":false},"axis":{"orient":"bottom","values":[0,5,10,15],"title":"Time (s)","titlePadding":10,"labelExpr":"''+datum.value"}},
   "y":{"field":"v","type":"quantitative","scale":{"domain":[-0.7,0.7],"nice":false,"zero":false},"axis":{"orient":"left","values":[-0.5,0,0.5],"title":"Command (V)","titleX":-60,"titleBaseline":"middle","labelExpr":"''+datum.value"}}}}
 ],
 "resolve":{"axis":{"x":"independent","y":"independent"}}},
{"width":527,"height":129,
 "title":{"text":"(a) normal two-layer algorithm","font":"Liberation Serif","fontSize":22,"fontWeight":"normal","color":"black","anchor":"middle","frame":"bounds","offset":7},
 "layer":[
  {"data":{"name":"shade"},"mark":{"type":"rect","color":"#d9d9d9"},
   "encoding":{"x":{"field":"a","type":"quantitative","scale":{"domain":[0,18.2],"nice":false,"zero":false},"axis":null},"x2":{"field":"b"}}},
  {"data":{"name":"p4b"},"mark":{"type":"line","color":"#0000ff","strokeWidth":1.3,"strokeDash":[1.2,2.6],"interpolate":"monotone","clip":true},
   "encoding":{"x":{"field":"t","type":"quantitative","scale":{"domain":[0,18.2],"nice":false,"zero":false},"axis":{"orient":"top","values":[0,5,10,15],"labels":false,"title":null}},
   "y":{"field":"v","type":"quantitative","scale":{"domain":[-1,0.6],"nice":false,"zero":false},"axis":{"orient":"right","values":[-1,-0.5,0,0.5],"labels":false,"title":null}}}},
  {"data":{"name":"p4k"},"mark":{"type":"line","color":"black","strokeWidth":1.3,"interpolate":"monotone","clip":true},
   "encoding":{"x":{"field":"t","type":"quantitative","scale":{"domain":[0,18.2],"nice":false,"zero":false},"axis":{"orient":"bottom","values":[0,5,10,15],"title":null,"labelExpr":"''+datum.value"}},
   "y":{"field":"v","type":"quantitative","scale":{"domain":[-1,0.6],"nice":false,"zero":false},"axis":{"orient":"left","values":[-1,-0.5,0,0.5],"title":"Position (rad)","titleX":-60,"titleBaseline":"middle","labelExpr":"''+datum.value"}}}}
 ],
 "resolve":{"axis":{"x":"independent","y":"independent"}}},
{"width":527,"height":129,
 "layer":[
  {"data":{"name":"shade"},"mark":{"type":"rect","color":"#d9d9d9"},
   "encoding":{"x":{"field":"a","type":"quantitative","scale":{"domain":[0,18.2],"nice":false,"zero":false},"axis":null},"x2":{"field":"b"}}},
  {"data":{"name":"p5b"},"mark":{"type":"line","color":"#0000ff","strokeWidth":1.3,"strokeDash":[1.2,2.6],"clip":true},
   "encoding":{"x":{"field":"t","type":"quantitative","scale":{"domain":[0,18.2],"nice":false,"zero":false},"axis":{"orient":"top","values":[0,5,10,15],"labels":false,"title":null}},
   "y":{"field":"v","type":"quantitative","scale":{"domain":[0,0.12],"nice":false,"zero":false},"axis":{"orient":"right","values":[0,0.05,0.1],"labels":false,"title":null}}}},
  {"data":{"name":"p5k"},"mark":{"type":"line","color":"black","strokeWidth":1.3,"clip":true},
   "encoding":{"x":{"field":"t","type":"quantitative","scale":{"domain":[0,18.2],"nice":false,"zero":false},"axis":{"orient":"bottom","values":[0,5,10,15],"title":null,"labelExpr":"''+datum.value"}},
   "y":{"field":"v","type":"quantitative","scale":{"domain":[0,0.12],"nice":false,"zero":false},"axis":{"orient":"left","values":[0,0.05,0.1],"title":"Energy ( J )","titleX":-60,"titleBaseline":"middle","labelExpr":"''+datum.value"}}}},
  {"data":{"name":"lim"},"mark":{"type":"rule","color":"#0000ff","strokeWidth":1.3,"strokeDash":[10,5]},
   "encoding":{"y":{"field":"v","type":"quantitative","axis":null}}}
 ],
 "resolve":{"axis":{"x":"independent","y":"independent"}}},
{"width":527,"height":130,
 "title":{"text":"(b) attack on the energy tank at the slave robot side","orient":"bottom","font":"Liberation Serif","fontSize":22,"fontWeight":"normal","color":"black","anchor":"middle","frame":"bounds","offset":8},
 "layer":[
  {"data":{"name":"shade"},"mark":{"type":"rect","color":"#d9d9d9"},
   "encoding":{"x":{"field":"a","type":"quantitative","scale":{"domain":[0,18.2],"nice":false,"zero":false},"axis":null},"x2":{"field":"b"}}},
  {"data":{"name":"p6b"},"mark":{"type":"line","color":"#0000ff","strokeWidth":1.3,"strokeDash":[1.2,2.2],"clip":true},
   "encoding":{"x":{"field":"t","type":"quantitative","scale":{"domain":[0,18.2],"nice":false,"zero":false},"axis":{"orient":"top","values":[0,5,10,15],"labels":false,"title":null}},
   "y":{"field":"v","type":"quantitative","scale":{"domain":[-0.7,0.7],"nice":false,"zero":false},"axis":{"orient":"right","values":[-0.5,0,0.5],"labels":false,"title":null}},
   "detail":{"field":"g"}}},
  {"data":{"name":"p6k"},"mark":{"type":"line","color":"black","strokeWidth":1.6,"clip":true},
   "encoding":{"x":{"field":"t","type":"quantitative","scale":{"domain":[0,18.2],"nice":false,"zero":false},"axis":{"orient":"bottom","values":[0,5,10,15],"title":"Time (s)","titlePadding":10,"labelExpr":"''+datum.value"}},
   "y":{"field":"v","type":"quantitative","scale":{"domain":[-0.7,0.7],"nice":false,"zero":false},"axis":{"orient":"left","values":[-0.5,0,0.5],"title":"Command (V)","titleX":-60,"titleBaseline":"middle","labelExpr":"''+datum.value"}}}}
 ],
 "resolve":{"axis":{"x":"independent","y":"independent"}}}
]
}
